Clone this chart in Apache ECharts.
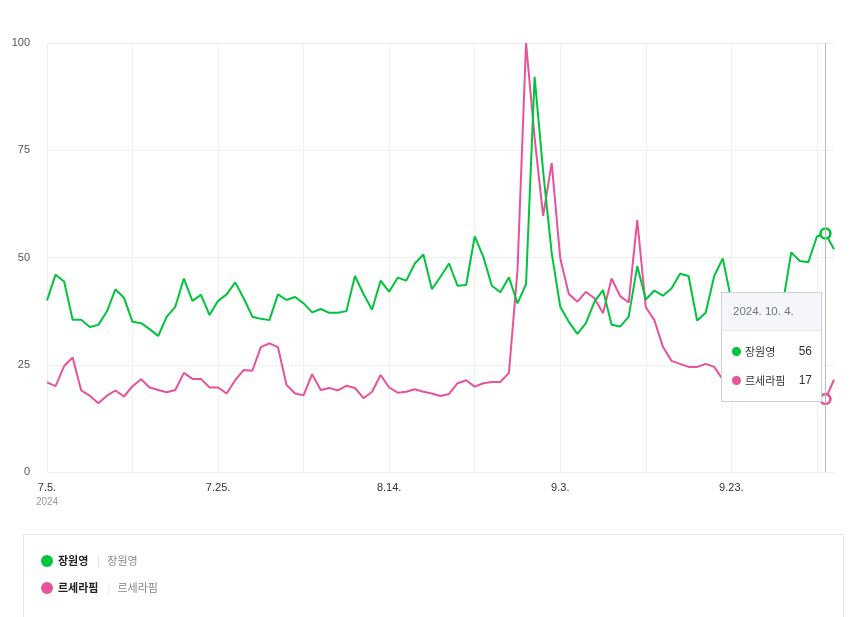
<!DOCTYPE html>
<html>
<head>
<meta charset="utf-8">
<script src="https://cdn.jsdelivr.net/npm/echarts@6/dist/echarts.min.js"></script>
<style>
html,body{margin:0;padding:0;background:#fff;}
#c{width:850px;height:617px;}
</style>
</head>
<body>
<div id="c"></div>
<script>
const year = '2024';
const days = [
 '7.5','7.6','7.7','7.8','7.9','7.10','7.11','7.12','7.13','7.14','7.15','7.16','7.17','7.18','7.19','7.20','7.21','7.22','7.23','7.24','7.25','7.26','7.27','7.28','7.29','7.30','7.31',
 '8.1','8.2','8.3','8.4','8.5','8.6','8.7','8.8','8.9','8.10','8.11','8.12','8.13','8.14','8.15','8.16','8.17','8.18','8.19','8.20','8.21','8.22','8.23','8.24','8.25','8.26','8.27','8.28','8.29','8.30','8.31',
 '9.1','9.2','9.3','9.4','9.5','9.6','9.7','9.8','9.9','9.10','9.11','9.12','9.13','9.14','9.15','9.16','9.17','9.18','9.19','9.20','9.21','9.22','9.23','9.24','9.25','9.26','9.27','9.28','9.29','9.30',
 '10.1','10.2','10.3','10.4','10.5'
];
const seriesNames = ['장원영', '르세라핌'];
const seriesColors = ['#00c43c', '#e8529a'];
const jangWonyoung = [
 40, 46, 44.4, 35.5, 35.5, 33.8, 34.3, 37.4, 42.6, 40.6,
 35, 34.7, 33.3, 31.7, 36.2, 38.5, 45.1, 39.9, 41.3, 36.6,
 39.9, 41.4, 44.2, 40.5, 36.2, 35.7, 35.4, 41.4, 40.1, 40.8,
 39.3, 37.2, 38, 37.1, 37.1, 37.5, 45.7, 41.5, 37.8, 44.6,
 42, 45.3, 44.6, 48.6, 50.7, 42.6, 45.5, 48.6, 43.4, 43.6,
 54.9, 50.2, 43.4, 41.9, 45.4, 39.3, 43.8, 92.1, 70, 51,
 38.5, 35, 32.2, 34.7, 39.7, 42.4, 34.3, 33.9, 36.2, 48,
 40.2, 42.3, 41.1, 42.8, 46.2, 45.7, 35.3, 37.1, 45.7, 49.8,
 40, 38, 36, 37, 35, 37, 39, 51.2, 49.2, 48.9,
 54.9, 55.6, 51.9
];
const leSserafim = [
 20.9, 20, 24.7, 26.7, 19, 17.8, 16, 17.8, 19, 17.6,
 20, 21.6, 19.7, 19.1, 18.6, 19.1, 23.1, 21.7, 21.7, 19.7,
 19.7, 18.3, 21.4, 23.8, 23.6, 29.1, 30, 29.1, 20.3, 18.3,
 17.9, 22.8, 19.1, 19.6, 19, 20.1, 19.6, 17.2, 18.7, 22.6,
 19.7, 18.5, 18.7, 19.3, 18.7, 18.3, 17.7, 18.2, 20.7, 21.4,
 19.9, 20.7, 21, 21, 23.1, 47, 100, 78, 59.7, 72,
 49.8, 41.5, 39.7, 42, 40.5, 37, 45.1, 41, 39.5, 58.7,
 38.4, 35.4, 29.2, 25.9, 25.2, 24.5, 24.5, 25.2, 24.5, 21.5,
 21, 20, 19.5, 19, 18.5, 18, 19, 18, 17.5, 18,
 18.5, 17, 21.5
];
const tooltipIndex = 91;
const yMin = 0, yMax = 100, yStep = 25;

const FONT = '"Liberation Sans", Arial, "Noto Sans CJK KR", sans-serif';
const KFONT = '"Noto Sans CJK KR", "Liberation Sans", sans-serif';

function mkData(vals, color) {
  return vals.map((v, i) => i === tooltipIndex
    ? { value: v, symbol: 'circle', symbolSize: 9, itemStyle: { color: '#fff', borderColor: color, borderWidth: 2.6 } }
    : v);
}

const chart = echarts.init(document.getElementById('c'), null, { renderer: 'canvas' });
chart.setOption({
  animation: false,
  backgroundColor: '#fff',
  grid: { left: 47, right: 16, top: 43, bottom: 145, containLabel: false },
  graphic: [{
    type: 'rect', left: 23, top: 534, z: -1,
    shape: { width: 820, height: 100 },
    style: { fill: '#fff', stroke: '#e6e6e6', lineWidth: 1 }
  }],
  legend: {
    orient: 'vertical', left: 41, top: 555, padding: 0,
    icon: 'circle', itemWidth: 12, itemHeight: 12, itemGap: 15,
    selectedMode: false,
    itemStyle: { borderWidth: 0 },
    data: seriesNames,
    formatter: n => '{n|' + n + '}{s||}{g|' + n + '}',
    textStyle: {
      fontFamily: KFONT,
      rich: {
        n: { fontFamily: KFONT, fontSize: 11, fontWeight: 'bold', color: '#222' },
        s: { fontFamily: KFONT, fontSize: 11, color: '#ddd', padding: [0, 7, 0, 9] },
        g: { fontFamily: KFONT, fontSize: 11, color: '#888' }
      }
    }
  },
  tooltip: {
    trigger: 'axis',
    triggerOn: 'none',
    alwaysShowContent: true,
    transitionDuration: 0,
    padding: 0,
    borderWidth: 1,
    borderColor: '#cdd0d8',
    backgroundColor: '#fff',
    extraCssText: 'box-shadow:none;border-radius:0;',
    position: function () { return [721, 292]; },
    axisPointer: { type: 'line', lineStyle: { color: '#b8bbc6', width: 1, type: 'solid' }, label: { show: false } },
    formatter: function (params) {
      const idx = params[0].dataIndex;
      const md = days[idx].split('.');
      let h = '<div style="width:99px;font-family:' + FONT.replace(/"/g, "'") + ';">';
      h += '<div style="background:#f4f6fa;height:37px;line-height:37px;padding-left:11px;border-bottom:1px solid #e4e7ec;color:#6f7480;font-size:11.5px;">' + year + '. ' + md[0] + '. ' + md[1] + '.</div>';
      h += '<div style="padding:6px 9px 6px 10px;">';
      params.forEach(p => {
        const v = typeof p.value === 'object' ? p.value.value : p.value;
        h += '<div style="height:29px;line-height:29px;display:flex;align-items:center;">' +
          '<span style="display:inline-block;width:9px;height:9px;border-radius:50%;background:' + seriesColors[p.seriesIndex] + ';margin-right:4px;"></span>' +
          '<span style="font-family:' + KFONT.replace(/"/g, "'") + ';font-size:11px;color:#333;flex:1;">' + p.seriesName + '</span>' +
          '<span style="font-size:12px;color:#333;">' + Math.round(v) + '</span></div>';
      });
      h += '</div></div>';
      return h;
    }
  },
  xAxis: {
    type: 'category',
    boundaryGap: false,
    data: days,
    axisLine: { show: false },
    axisTick: { show: false },
    splitLine: { show: true, interval: (i) => i % 10 === 0, lineStyle: { color: '#f0f0f2', width: 1 } },
    axisLabel: {
      interval: (i) => i % 20 === 0,
      margin: 10,
      fontFamily: FONT, fontSize: 11, color: '#333',
      formatter: (v, i) => i === 0 ? v + '.\n{y|' + year + '}' : v + '.',
      rich: { y: { fontFamily: FONT, fontSize: 10, color: '#999', padding: [4, 0, 0, 0] } }
    }
  },
  yAxis: [{
    type: 'value', min: yMin, max: yMax, interval: yStep,
    axisLine: { show: false }, axisTick: { show: false },
    axisLabel: { margin: 17, fontFamily: FONT, fontSize: 11, color: '#555' },
    splitLine: { show: true, lineStyle: { color: '#e6e6e6', type: [2, 2], width: 1 } }
  }, {
    type: 'value', min: yMin, max: yMax, interval: yStep * 2, position: 'left',
    axisLine: { show: false }, axisTick: { show: false }, axisLabel: { show: false },
    splitLine: { show: true, lineStyle: { color: '#eeeeee', type: 'solid', width: 1 } }
  }],
  series: [{
    name: seriesNames[0], type: 'line', yAxisIndex: 0,
    data: mkData(jangWonyoung, seriesColors[0]),
    symbol: 'none', showSymbol: true, showAllSymbol: true,
    color: seriesColors[0],
    lineStyle: { color: seriesColors[0], width: 2 },
    emphasis: { disabled: true },
    z: 3
  }, {
    name: seriesNames[1], type: 'line', yAxisIndex: 0,
    data: mkData(leSserafim, seriesColors[1]),
    symbol: 'none', showSymbol: true, showAllSymbol: true,
    color: seriesColors[1],
    lineStyle: { color: seriesColors[1], width: 2 },
    emphasis: { disabled: true },
    z: 2
  }]
});
chart.dispatchAction({ type: 'showTip', seriesIndex: 0, dataIndex: tooltipIndex });
</script>
</body>
</html>
